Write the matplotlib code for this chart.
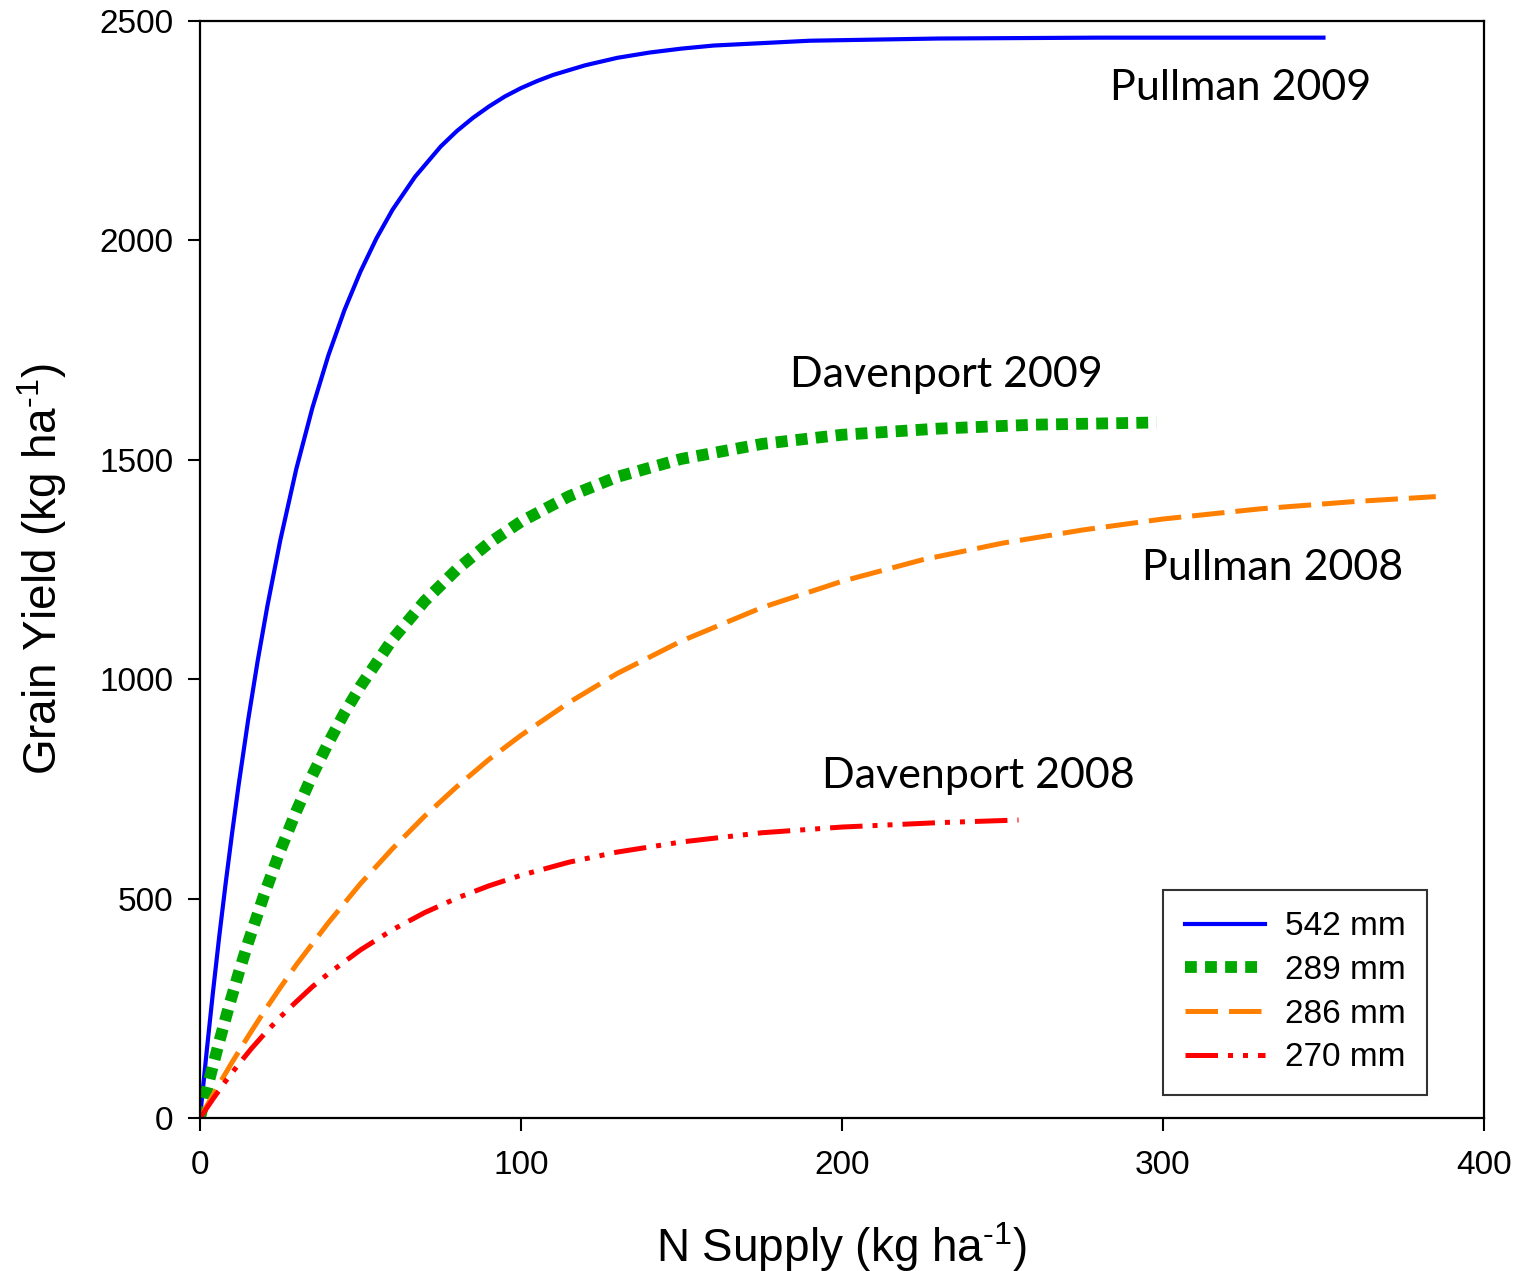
import matplotlib
matplotlib.use("Agg")
import matplotlib.pyplot as plt

# values (N supply kg/ha, grain yield kg/ha)
n_542 = [0, 2, 4, 6, 8, 10, 12, 15, 18, 21, 25, 30, 35, 40, 45, 50, 55, 60, 67, 75,
         80, 85, 90, 95, 100, 105, 110, 120, 130, 140, 150, 160, 190, 230, 280, 350]
y_542 = [0, 146, 284, 414, 535, 649, 757, 907, 1043, 1167, 1316, 1479, 1618, 1738, 1841,
         1929, 2005, 2070, 2145, 2214, 2249, 2279, 2305, 2328, 2347, 2363, 2377, 2399,
         2416, 2428, 2437, 2444, 2455, 2460, 2462, 2462]

n_289 = [0, 3, 6, 9, 12, 15, 20, 25, 30, 35, 40, 45, 50, 60, 70, 80, 90, 100, 115, 130,
         150, 175, 200, 230, 260, 298]
y_289 = [0, 90, 174, 254, 329, 400, 509, 609, 699, 781, 855, 923, 984, 1091, 1178, 1250,
         1310, 1359, 1417, 1461, 1502, 1536, 1557, 1571, 1580, 1585]

n_286 = [0, 5, 10, 15, 20, 25, 30, 40, 50, 60, 70, 80, 90, 100, 115, 130, 150, 175, 200,
         225, 250, 275, 300, 330, 360, 385]
y_286 = [0, 65, 127, 186, 243, 297, 349, 445, 534, 614, 688, 755, 817, 872, 947, 1013,
         1087, 1163, 1223, 1272, 1310, 1340, 1365, 1388, 1405, 1416]

n_270 = [0, 4, 8, 12, 16, 20, 25, 30, 35, 40, 50, 60, 70, 80, 90, 100, 115, 130, 150,
         175, 200, 230, 255]
y_270 = [0, 43, 84, 122, 158, 191, 230, 265, 299, 329, 383, 429, 468, 501, 529, 553, 583,
         606, 629, 650, 663, 673, 679]

labels = ["542 mm", "289 mm", "286 mm", "270 mm"]
site_names = ["Pullman 2009", "Davenport 2009", "Pullman 2008", "Davenport 2008"]
site_pos = [(283.5, 2347), (183.8, 1693), (293.5, 1253), (193.8, 779)]

plt.rcParams['font.family'] = ['Liberation Sans', 'DejaVu Sans']

fig = plt.figure(figsize=(15.22, 12.71), dpi=100)
ax = fig.add_axes([0.1314, 0.1204, 0.8436, 0.8631])

ax.plot(n_542, y_542, color='#0000ff', lw=3.0, label=labels[0])
ax.plot(n_289, y_289, color='#00a800', lw=8.5, linestyle=(0, (1, 0.7)),
        dash_capstyle='butt', label=labels[1])
ax.plot(n_286, y_286, color='#ff8000', lw=3.6, linestyle=(0, (6.5, 2.2)),
        dash_capstyle='butt', label=labels[2])
ax.plot(n_270, y_270, color='#ff0000', lw=3.6, linestyle=(0, (6.5, 2.0, 1, 2.0, 1, 2.0)),
        dash_capstyle='butt', label=labels[3])

for name, (x, y) in zip(site_names, site_pos):
    ax.text(x, y, name, fontsize=31, family=['Lato', 'DejaVu Sans'], va='center', ha='left')

ax.set_xlim(0, 400)
ax.set_ylim(0, 2500)
ax.set_xticks([0, 100, 200, 300, 400])
ax.set_yticks([0, 500, 1000, 1500, 2000, 2500])
ax.tick_params(direction='out', length=9, width=1.5, labelsize=24, pad=10)
ax.tick_params(axis='x', pad=14)
for s in ax.spines.values():
    s.set_linewidth(1.6)

ax.set_xlabel('N Supply (kg ha$^{\\mathregular{\u20101}}$)', fontsize=33, labelpad=28)
ax.set_ylabel('Grain Yield (kg ha$^{\\mathregular{\u20101}}$)', fontsize=33, labelpad=22)

leg = ax.legend(loc='lower right', bbox_to_anchor=(0.9556, 0.021), fontsize=24,
                frameon=True, fancybox=False, edgecolor='black', handlelength=2.4,
                borderpad=0.65, labelspacing=0.38, handletextpad=0.6, borderaxespad=0)
leg.get_frame().set_linewidth(1.5)

fig.savefig('out.png', dpi=100)
